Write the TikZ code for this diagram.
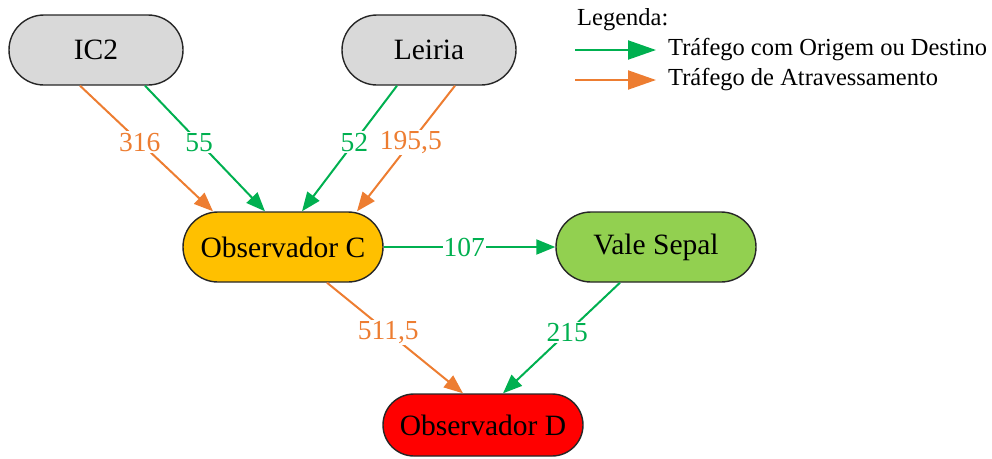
\documentclass[tikz,border=0pt]{standalone}
\usepackage{fontspec}
\setmainfont{Liberation Serif}
\usetikzlibrary{arrows.meta,shapes.misc,calc}
\definecolor{cgreen}{HTML}{00B050}
\definecolor{corange}{HTML}{ED7D31}
\definecolor{cgray}{HTML}{D9D9D9}
\definecolor{cyellow}{HTML}{FFC000}
\definecolor{clgreen}{HTML}{92D050}
\definecolor{cred}{HTML}{FF0000}
\tikzset{
  place/.style={rounded rectangle, draw=black!85, line width=1.4pt, minimum width=#1, minimum height=70pt, font=\fontsize{29.5}{31}\selectfont, inner sep=0pt},
  place/.default=174pt,
  flow/.style={line width=2pt, -{Triangle[length=19pt,width=15pt]}},
  gflow/.style={flow, draw=cgreen},
  oflow/.style={flow, draw=corange},
  lab/.style={fill=white, inner sep=1.5pt, font=\fontsize{27.5}{29}\selectfont},
  legtext/.style={anchor=west, font=\fontsize{24.5}{26}\selectfont, inner sep=0pt}
}
\begin{document}
\begin{tikzpicture}[x=1pt,y=-1pt]
\useasboundingbox (0,0) rectangle (992,458);
\node[place, fill=cgray] (ic2) at (96,50) {IC2};
\node[place, fill=cgray] (leiria) at (429,50) {Leiria};
\node[place=200pt, fill=cyellow] (obsC) at (283,247) {Observador C};
\node[place=200pt, fill=clgreen] (vale) at (656,247) {Vale Sepal};
\node[place=200pt, fill=cred, minimum height=62pt] (obsD) at (483,425) {Observador D};

\draw[oflow] ($(ic2.south)+(-16,0)$) -- node[lab, text=corange, pos=0.45] (l316) {316} ($(obsC.north)+(-70,0)$);
\draw[gflow] ($(ic2.south)+(49,0)$) -- node[lab, text=cgreen, pos=0.45] (l55) {55} ($(obsC.north)+(-18,0)$);
\draw[gflow] ($(leiria.south)+(-32,0)$) -- node[lab, text=cgreen, pos=0.45] (l52) {52} ($(obsC.north)+(19,0)$);
\draw[oflow] ($(leiria.south)+(26,0)$) -- node[lab, text=corange, pos=0.45] (l195) {195,5} ($(obsC.north)+(74,0)$);
\draw[gflow] (obsC.east) -- node[lab, text=cgreen, pos=0.47, inner sep=1pt] (l107) {107} (vale.west);
\draw[oflow] ($(obsC.south)+(44,0)$) -- node[lab, text=corange, pos=0.45] (l511) {511,5} ($(obsD.north)+(-20,0)$);
\draw[gflow] ($(vale.south)+(-36,0)$) -- node[lab, text=cgreen, pos=0.45] (l215) {215} ($(obsD.north)+(20,0)$);

% legend
\node[legtext] (legtitle) at (577,20) {Legenda:};
\coordinate (g1) at (575,50);
\coordinate (g2) at (656,50);
\coordinate (o1) at (575,80);
\coordinate (o2) at (656,80);
\draw[line width=2pt, draw=cgreen, -{Triangle[length=28pt,width=19pt]}] (g1) -- (g2);
\draw[line width=2pt, draw=corange, -{Triangle[length=28pt,width=19pt]}] (o1) -- (o2);
\node[legtext] (legg) at (668,50) {Tráfego com Origem ou Destino};
\node[legtext] (lego) at (668,80) {Tráfego de Atravessamento};
\end{tikzpicture}
\end{document}
